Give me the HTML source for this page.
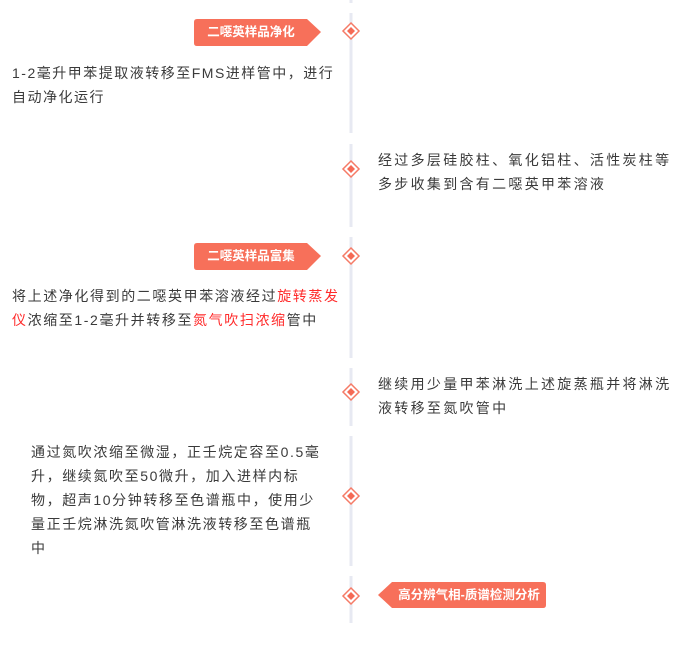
<!DOCTYPE html>
<html><head><meta charset="utf-8"><style>
html,body{margin:0;padding:0;background:#fff;}
body{width:681px;height:649px;position:relative;overflow:hidden;font-family:"Liberation Sans","Noto Sans CJK SC",sans-serif;}
.t{position:absolute;font-size:14px;letter-spacing:2.3px;color:#3a3a3a;white-space:nowrap;line-height:24px;}
.r{color:#ff2a2a;}
.b{position:absolute;color:#fff;font-size:12.5px;font-weight:bold;line-height:26px;white-space:nowrap;text-align:center;}
svg{position:absolute;left:0;top:0;}
</style></head><body>
<svg width="681" height="649">
<g fill="#e7e9f2">
<rect x="349.5" y="0" width="3" height="3"/>
<rect x="349.5" y="13" width="3" height="120"/>
<rect x="349.5" y="144" width="3" height="83"/>
<rect x="349.5" y="237" width="3" height="121"/>
<rect x="349.5" y="368" width="3" height="58"/>
<rect x="349.5" y="436" width="3" height="130"/>
<rect x="349.5" y="576" width="3" height="47"/>
</g>
<g fill="#fff" stroke="#f57a66" stroke-width="1.5">
<polygon points="351,23 359,31 351,39 343,31"/>
<polygon points="351,161 359,169 351,177 343,169"/>
<polygon points="351,248 359,256 351,264 343,256"/>
<polygon points="351,384 359,392 351,400 343,392"/>
<polygon points="351,488 359,496 351,504 343,496"/>
<polygon points="351,588 359,596 351,604 343,596"/>
</g>
<g fill="#f56a55">
<polygon points="351,27 355,31 351,35 347,31"/>
<polygon points="351,165 355,169 351,173 347,169"/>
<polygon points="351,252 355,256 351,260 347,256"/>
<polygon points="351,388 355,392 351,396 347,392"/>
<polygon points="351,492 355,496 351,500 347,496"/>
<polygon points="351,592 355,596 351,600 347,596"/>
</g>
<g fill="#f7705a">
<path d="M197,19 H307 L321,32 L307,46 H197 Q194,46 194,43 V22 Q194,19 197,19 Z"/>
<path d="M197,243 H307 L321,256 L307,270 H197 Q194,270 194,267 V246 Q194,243 197,243 Z"/>
<path d="M392,582 H543 Q546,582 546,585 V605 Q546,608 543,608 H392 L378,595 Z"/>
</g>
</svg>
<div class="b" style="left:194px;top:19px;width:114px;">二噁英样品净化</div>
<div class="b" style="left:194px;top:243px;width:114px;">二噁英样品富集</div>
<div class="b" style="left:392px;top:582px;width:154px;">高分辨气相-质谱检测分析</div>

<div class="t" style="left:12px;top:61px;letter-spacing:1.5px;">1-2毫升甲苯提取液转移至FMS进样管中，进行</div>
<div class="t" style="left:12px;top:85px;letter-spacing:1.5px;">自动净化运行</div>

<div class="t" style="left:378px;top:148px;">经过多层硅胶柱、氧化铝柱、活性炭柱等</div>
<div class="t" style="left:378px;top:172px;">多步收集到含有二噁英甲苯溶液</div>

<div class="t" style="left:12px;top:284px;letter-spacing:1.6px;">将上述净化得到的二噁英甲苯溶液经过<span class="r">旋转蒸发</span></div>
<div class="t" style="left:12px;top:308px;letter-spacing:1.6px;"><span class="r">仪</span>浓缩至1-2毫升并转移至<span class="r">氮气吹扫浓缩</span>管中</div>

<div class="t" style="left:378px;top:372px;">继续用少量甲苯淋洗上述旋蒸瓶并将淋洗</div>
<div class="t" style="left:378px;top:396px;">液转移至氮吹管中</div>

<div class="t" style="left:31px;top:440px;letter-spacing:1.6px;">通过氮吹浓缩至微湿，正壬烷定容至0.5毫</div>
<div class="t" style="left:31px;top:464px;letter-spacing:1.6px;">升，继续氮吹至50微升，加入进样内标</div>
<div class="t" style="left:31px;top:488px;letter-spacing:1.6px;">物，超声10分钟转移至色谱瓶中，使用少</div>
<div class="t" style="left:31px;top:512px;letter-spacing:1.6px;">量正壬烷淋洗氮吹管淋洗液转移至色谱瓶</div>
<div class="t" style="left:31px;top:536px;letter-spacing:1.6px;">中</div>
</body></html>
